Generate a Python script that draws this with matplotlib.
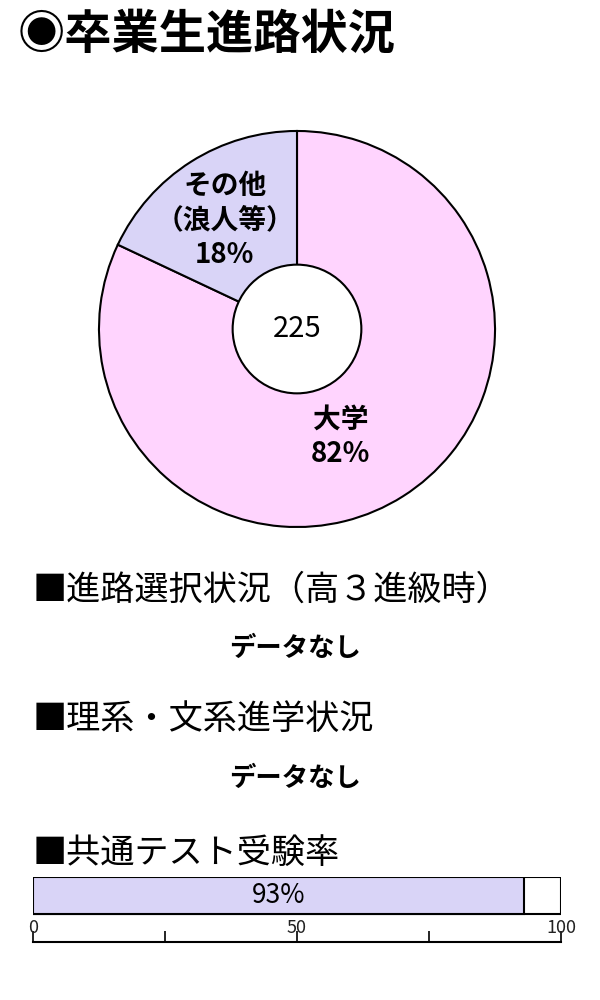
import matplotlib
matplotlib.use('Agg')
import matplotlib.pyplot as plt

plt.rcParams['font.family'] = ['Noto Sans CJK JP', 'DejaVu Sans']

# data
pie_labels = ['大学\n82%', 'その他\n（浪人等）\n18%']
pie_values = [82, 18]
pie_colors = ['#FFD4FE', '#D9D4F7']
total_students = '225'

test_rate = 93
test_ticks = [0, 25, 50, 75, 100]
test_ticklabels = ['0', '', '50', '', '100']

W, H = 600, 1000
fig = plt.figure(figsize=(6, 10), dpi=100, facecolor='white')


def px_axes(x0, y0, x1, y1):
    # pixel box (top-left origin) -> figure axes
    return fig.add_axes([x0 / W, 1 - y1 / H, (x1 - x0) / W, (y1 - y0) / H])


# title
fig.text(18 / W, 1 - 35 / H, '◉卒業生進路状況', fontsize=34, fontweight='bold',
         va='center', ha='left')

# donut
ax = px_axes(97, 129, 497, 529)
wedges, _ = ax.pie(pie_values, colors=pie_colors, startangle=90, counterclock=False,
                   radius=1.0, wedgeprops=dict(edgecolor='black', linewidth=1.5))
center = plt.Circle((0, 0), 0.325, facecolor='white', edgecolor='black', linewidth=1.5, zorder=5)
ax.add_patch(center)
ax.text(0, 0, total_students, ha='center', va='center', fontsize=21, zorder=6)
ax.text(0.22, -0.545, pie_labels[0], ha='center', va='center', fontsize=20,
        fontweight='bold', linespacing=1.3)
ax.text(-0.365, 0.55, pie_labels[1], ha='center', va='center', fontsize=20,
        fontweight='bold', linespacing=1.3)
ax.set_xlim(-1.01, 1.01)
ax.set_ylim(-1.01, 1.01)
ax.set_aspect('equal')
ax.axis('off')

# sections
fig.text(33 / W, 1 - 590 / H, '■進路選択状況（高３進級時）', fontsize=24.6, va='center', ha='left')
fig.text(295 / W, 1 - 648 / H, 'データなし', fontsize=19, fontweight='bold', va='center', ha='center')
fig.text(33 / W, 1 - 720 / H, '■理系・文系進学状況', fontsize=24.6, va='center', ha='left')
fig.text(295 / W, 1 - 778 / H, 'データなし', fontsize=19, fontweight='bold', va='center', ha='center')
fig.text(33 / W, 1 - 853 / H, '■共通テスト受験率', fontsize=24.6, va='center', ha='left')

# bar
bx = px_axes(33, 877, 561, 942)
bx.barh([0], [100], height=1, left=0, color='white', edgecolor='black', linewidth=1.5)
bx.barh([0], [test_rate], height=1, left=0, color='#D9D4F7', edgecolor='black', linewidth=1.5)
bx.text(test_rate / 2, 0, f'{test_rate}%', ha='center', va='center', fontsize=19)
bx.set_xlim(0, 100)
bx.set_ylim(-1.28, 0.5)
bx.set_xticks(test_ticks)
bx.set_xticklabels([''] * len(test_ticks))
bx.tick_params(axis='x', direction='in', length=8, width=1.2)
bx.set_yticks([])
for s in ['top', 'left', 'right']:
    bx.spines[s].set_visible(False)
bx.spines['bottom'].set_linewidth(1.5)
for t, lab in zip(test_ticks, test_ticklabels):
    if lab:
        bx.text(t, -0.9, lab, ha='center', va='center', fontsize=13, color='#222222')

fig.savefig('out.png', dpi=100, facecolor='white')
